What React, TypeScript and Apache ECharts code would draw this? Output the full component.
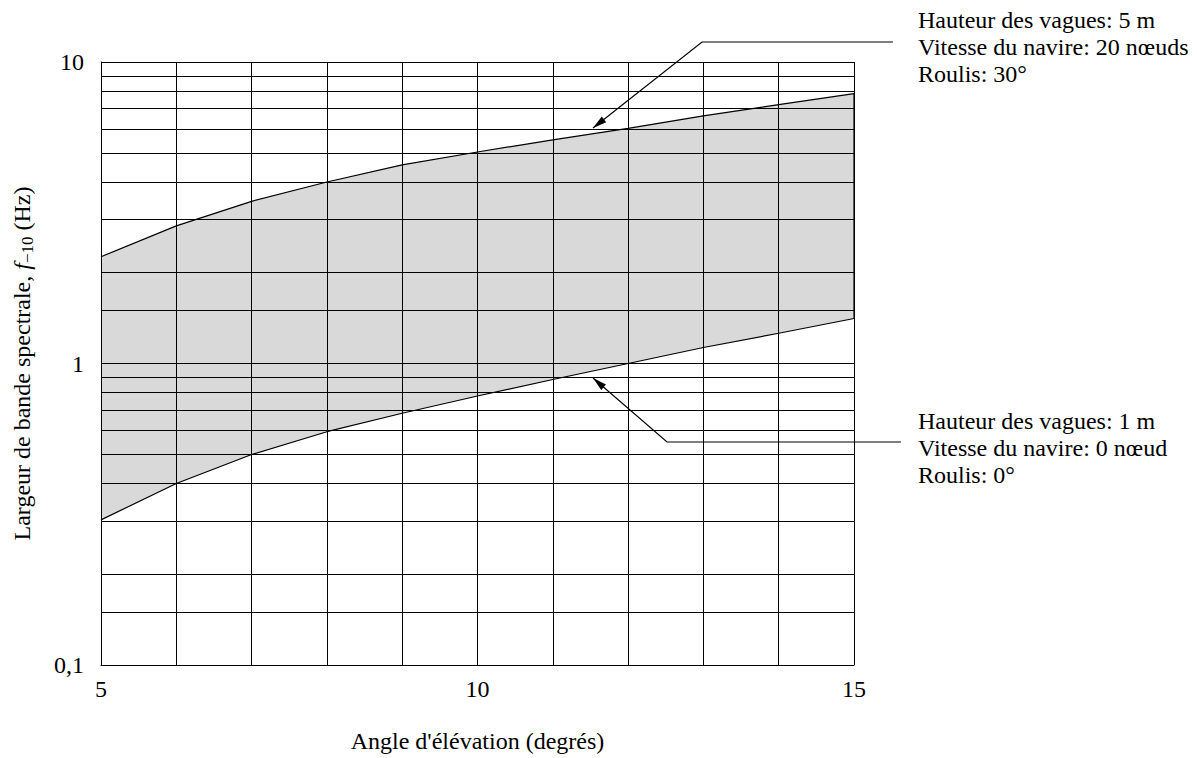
import React, { useEffect, useRef } from 'react';
import * as echarts from 'echarts';

// ---- data ----
const xValues = [5, 6, 7, 8, 9, 10, 11, 12, 13, 14, 15];
const upperValues = [2.26, 2.86, 3.45, 4.0, 4.56, 5.03, 5.52, 6.02, 6.63, 7.22, 7.85];
const lowerValues = [0.303, 0.4, 0.499, 0.594, 0.684, 0.78, 0.885, 1.0, 1.13, 1.26, 1.41];
const minorGridValues = [0.15, 0.2, 0.3, 0.4, 0.5, 0.6, 0.7, 0.8, 0.9, 1.5, 2, 3, 4, 5, 6, 7, 8, 9];
const yTickValues = [0.1, 1, 10];
const yTickLabels = ['0,1', '1', '10'];
const xTickValues = [5, 10, 15];
const xTickLabels = ['5', '10', '15'];
const topNote = ['Hauteur des vagues: 5 m', 'Vitesse du navire: 20 nœuds', 'Roulis: 30°'];
const bottomNote = ['Hauteur des vagues: 1 m', 'Vitesse du navire: 0 nœud', 'Roulis: 0°'];
const xTitle = "Angle d'élévation (degrés)";

const FONT = '"Liberation Serif", "Times New Roman", Times, serif';

function arrowHead(tip: number[], from: number[], len = 14, half = 3.6) {
  const dx = tip[0] - from[0];
  const dy = tip[1] - from[1];
  const l = Math.sqrt(dx * dx + dy * dy);
  const ux = dx / l;
  const uy = dy / l;
  const bx = tip[0] - ux * len;
  const by = tip[1] - uy * len;
  return [
    [tip[0], tip[1]],
    [bx - uy * half, by + ux * half],
    [bx + uy * half, by - ux * half],
  ];
}

export default function App() {
  const ref = useRef<HTMLDivElement>(null);
  useEffect(() => {
    if (!ref.current) return;
    const chart = echarts.init(ref.current, null, { renderer: 'svg' });

    const topCorner = [702, 42];
    const topTip = [593, 128];
    const botCorner = [667, 442];
    const botTip = [593, 378];

    const option: any = {
      animation: false,
      backgroundColor: '#fff',
      textStyle: { fontFamily: FONT },
      grid: { left: 101, right: 343, top: 62, bottom: 92, show: false },
      xAxis: {
        type: 'value',
        min: 5,
        max: 15,
        interval: 5,
        z: 3,
        name: xTitle,
        nameLocation: 'middle',
        nameGap: 64,
        nameTextStyle: { fontFamily: FONT, fontSize: 24, color: '#000' },
        axisLine: { show: true, lineStyle: { color: '#000', width: 1 } },
        axisTick: { show: false },
        axisLabel: {
          fontFamily: FONT,
          fontSize: 24,
          color: '#000',
          margin: 12,
          formatter: (v: number) => {
            const i = xTickValues.indexOf(v);
            return i >= 0 ? xTickLabels[i] : '';
          },
        },
        splitLine: { show: true, lineStyle: { color: '#000', width: 1 } },
        minorTick: { show: false, splitNumber: 5 },
        minorSplitLine: { show: true, lineStyle: { color: '#000', width: 1 } },
      },
      yAxis: {
        type: 'log',
        logBase: 10,
        min: 0.1,
        max: 10,
        z: 3,
        name: '{a|Largeur de bande spectrale, }{f|f}{s|−10}{a| (Hz)}',
        nameLocation: 'middle',
        nameRotate: 90,
        nameGap: 65,
        nameTextStyle: {
          fontFamily: FONT,
          fontSize: 24,
          color: '#000',
          rich: {
            a: { fontFamily: FONT, fontSize: 24, color: '#000', lineHeight: 28 },
            f: { fontFamily: FONT, fontSize: 24, fontStyle: 'italic', color: '#000', lineHeight: 28 },
            s: { fontFamily: FONT, fontSize: 17, color: '#000', lineHeight: 18, verticalAlign: 'bottom' },
          },
        },
        axisLine: { show: true, lineStyle: { color: '#000', width: 1 } },
        axisTick: { show: false },
        axisLabel: {
          fontFamily: FONT,
          fontSize: 24,
          color: '#000',
          margin: 17,
          formatter: (v: number) => {
            let best = 0;
            for (let i = 0; i < yTickValues.length; i++) {
              if (Math.abs(Math.log10(v) - Math.log10(yTickValues[i])) < Math.abs(Math.log10(v) - Math.log10(yTickValues[best]))) best = i;
            }
            return yTickLabels[best];
          },
        },
        splitLine: { show: true, lineStyle: { color: '#000', width: 1 } },
      },
      series: [
        {
          type: 'custom',
          coordinateSystem: 'cartesian2d',
          z: 1,
          silent: true,
          data: [[xValues[0], lowerValues[0]]],
          renderItem: (params: any, api: any) => {
            const pts: number[][] = [];
            for (let i = 0; i < xValues.length; i++) pts.push(api.coord([xValues[i], upperValues[i]]));
            for (let i = xValues.length - 1; i >= 0; i--) pts.push(api.coord([xValues[i], lowerValues[i]]));
            return {
              type: 'polygon',
              shape: { points: pts },
              style: { fill: '#d9d9d9', stroke: 'none' },
            };
          },
        },
        {
          type: 'line',
          z: 5,
          silent: true,
          symbol: 'none',
          data: xValues.map((x, i) => [x, upperValues[i]]),
          lineStyle: { color: '#000', width: 1.2 },
          markLine: {
            silent: true,
            symbol: ['none', 'none'],
            label: { show: false },
            lineStyle: { color: '#000', width: 1, type: 'solid' },
            emphasis: { disabled: true },
            data: minorGridValues.map((v) => ({ yAxis: v })),
          },
        },
        {
          type: 'line',
          z: 5,
          silent: true,
          symbol: 'none',
          data: xValues.map((x, i) => [x, lowerValues[i]]),
          lineStyle: { color: '#000', width: 1.2 },
        },
        {
          // vertical right edge of the band
          type: 'line',
          z: 5,
          silent: true,
          symbol: 'none',
          data: [
            [xValues[xValues.length - 1], lowerValues[lowerValues.length - 1]],
            [xValues[xValues.length - 1], upperValues[upperValues.length - 1]],
          ],
          lineStyle: { color: '#000', width: 1.2 },
        },
      ],
      graphic: [
        {
          type: 'text',
          x: 918,
          y: 6,
          z: 10,
          style: { text: topNote.join('\n'), font: `24px ${FONT}`, fill: '#000', lineHeight: 27, verticalAlign: 'top' },
        },
        {
          type: 'text',
          x: 918,
          y: 407,
          z: 10,
          style: { text: bottomNote.join('\n'), font: `24px ${FONT}`, fill: '#000', lineHeight: 27, verticalAlign: 'top' },
        },
        {
          type: 'polyline',
          z: 10,
          shape: { points: [[893, 42], topCorner, topTip] },
          style: { stroke: '#000', lineWidth: 1.2, fill: null },
        },
        {
          type: 'polygon',
          z: 10,
          shape: { points: arrowHead(topTip, topCorner) },
          style: { fill: '#000' },
        },
        {
          type: 'polyline',
          z: 10,
          shape: { points: [[901, 442], botCorner, botTip] },
          style: { stroke: '#000', lineWidth: 1.2, fill: null },
        },
        {
          type: 'polygon',
          z: 10,
          shape: { points: arrowHead(botTip, botCorner) },
          style: { fill: '#000' },
        },
      ],
    };
    chart.setOption(option);
    return () => chart.dispose();
  }, []);
  return <div ref={ref} style={{ position: 'fixed', left: 0, top: 0, width: 1197, height: 758, background: '#fff' }} />;
}
